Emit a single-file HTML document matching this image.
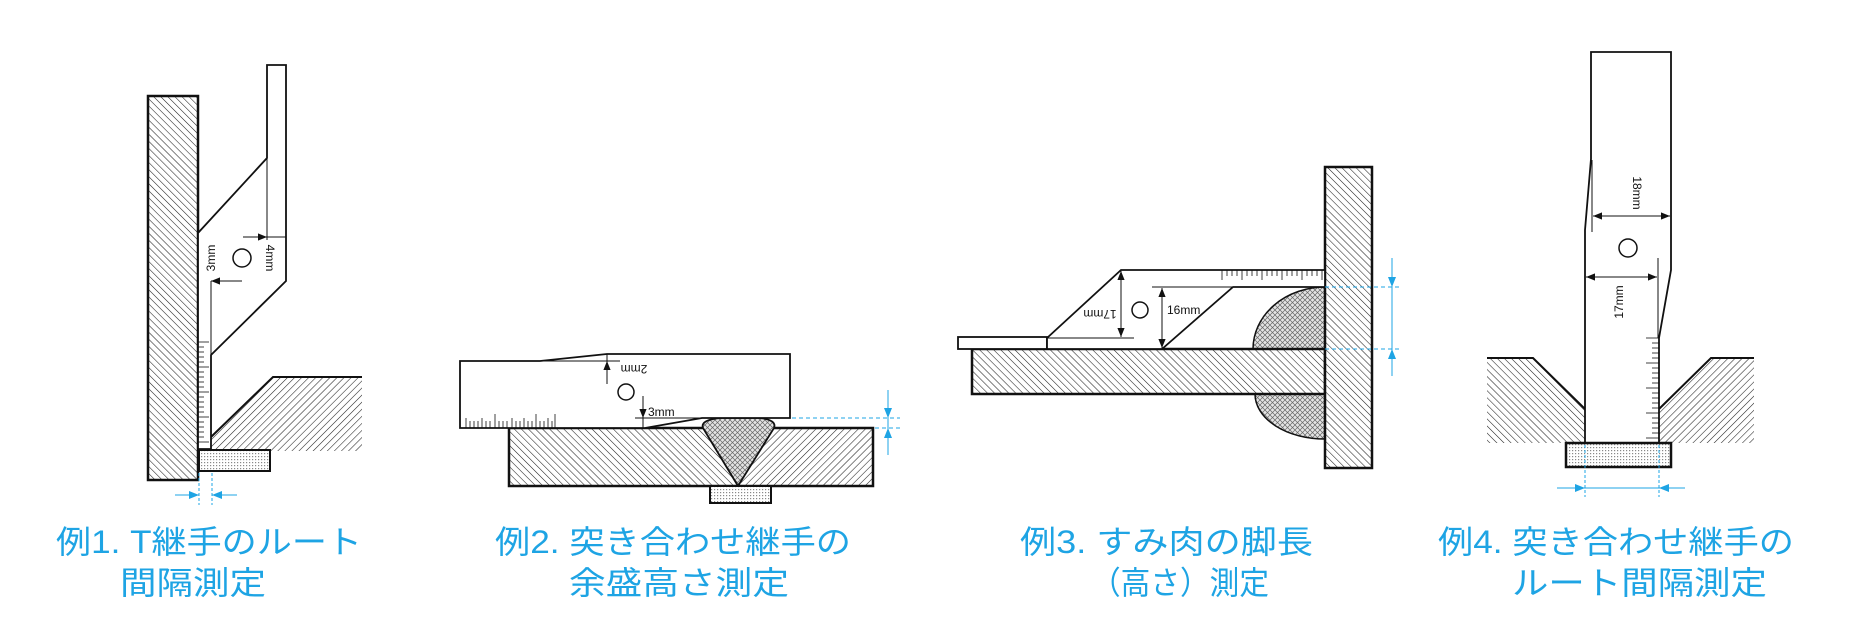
<!DOCTYPE html>
<html><head><meta charset="utf-8"><style>
html,body{margin:0;padding:0;background:#fff;width:1850px;height:620px;overflow:hidden}
svg{display:block}
.lbl{font-family:"Liberation Sans","Noto Sans CJK JP",sans-serif;font-size:32px;fill:#1ea4e4}
.dim{font-family:"Liberation Sans",sans-serif;font-size:12px;fill:#111}
</style></head><body>
<svg width="1850" height="620" viewBox="0 0 1850 620" xmlns="http://www.w3.org/2000/svg">
<defs>
<pattern id="hb" width="5" height="5" patternUnits="userSpaceOnUse" patternTransform="rotate(-45)"><rect width="5" height="5" fill="#fff"/><line x1="0" y1="0" x2="0" y2="5" stroke="#222" stroke-width="1.1"/></pattern>
<pattern id="hf" width="5" height="5" patternUnits="userSpaceOnUse" patternTransform="rotate(45)"><rect width="5" height="5" fill="#fff"/><line x1="0" y1="0" x2="0" y2="5" stroke="#222" stroke-width="1.1"/></pattern>
<pattern id="xw" width="5" height="5" patternUnits="userSpaceOnUse"><rect width="5" height="5" fill="#e4e4e4"/><path d="M0 0L5 5M5 0L0 5" stroke="#666" stroke-width="0.7"/></pattern>
<pattern id="dt" width="3" height="3" patternUnits="userSpaceOnUse"><rect width="3" height="3" fill="#fff"/><rect width="1.2" height="1.2" fill="#888"/></pattern>
<marker id="ar" viewBox="0 0 10 10" refX="10" refY="5" markerWidth="9" markerHeight="9" markerUnits="userSpaceOnUse" orient="auto"><path d="M0 1L10 5L0 9z" fill="#111"/></marker>
<marker id="ab" viewBox="0 0 10 10" refX="10" refY="5" markerWidth="10" markerHeight="10" markerUnits="userSpaceOnUse" orient="auto"><path d="M0 1L10 5L0 9z" fill="#1ea4e4"/></marker>
</defs>

<!-- Example 1 -->
<rect x="148" y="96" width="50" height="384" fill="url(#hb)" stroke="#111" stroke-width="2.5"/>
<polygon points="273,377 362,377 362,451 211,451 211,437" fill="url(#hf)"/>
<polyline points="211,437 273,377 362,377" fill="none" stroke="#111" stroke-width="2"/>
<polygon points="267,65 286,65 286,281 211,355 211,449 198,449 198,233 267,158" fill="#fff" stroke="#111" stroke-width="1.8"/>
<line x1="267" y1="158" x2="267" y2="240" stroke="#111" stroke-width="1"/>
<line x1="211" y1="281" x2="211" y2="449" stroke="#111" stroke-width="1"/>
<g stroke="#111" stroke-width="0.8">
<line x1="198" y1="342" x2="209" y2="342"/><line x1="198" y1="347" x2="204" y2="347"/><line x1="198" y1="352" x2="204" y2="352"/><line x1="198" y1="357" x2="204" y2="357"/><line x1="198" y1="362" x2="204" y2="362"/><line x1="198" y1="367" x2="209" y2="367"/><line x1="198" y1="372" x2="204" y2="372"/><line x1="198" y1="377" x2="204" y2="377"/><line x1="198" y1="382" x2="204" y2="382"/><line x1="198" y1="387" x2="204" y2="387"/><line x1="198" y1="392" x2="209" y2="392"/><line x1="198" y1="397" x2="204" y2="397"/><line x1="198" y1="402" x2="204" y2="402"/><line x1="198" y1="407" x2="204" y2="407"/><line x1="198" y1="412" x2="204" y2="412"/><line x1="198" y1="417" x2="209" y2="417"/><line x1="198" y1="422" x2="204" y2="422"/><line x1="198" y1="427" x2="204" y2="427"/><line x1="198" y1="432" x2="204" y2="432"/><line x1="198" y1="437" x2="204" y2="437"/><line x1="198" y1="442" x2="209" y2="442"/>
</g>
<line x1="243" y1="237" x2="267" y2="237" stroke="#111" stroke-width="1" marker-end="url(#ar)"/>
<line x1="267" y1="237" x2="286" y2="237" stroke="#111" stroke-width="1"/>
<line x1="242" y1="281" x2="211" y2="281" stroke="#111" stroke-width="1" marker-end="url(#ar)"/>
<circle cx="242" cy="258" r="9" fill="none" stroke="#111" stroke-width="1.5"/>
<text class="dim" transform="translate(215,258) rotate(-90)" text-anchor="middle">3mm</text>
<text class="dim" transform="translate(266,258) rotate(90)" text-anchor="middle">4mm</text>
<rect x="199" y="450" width="71" height="21" fill="url(#dt)" stroke="#111" stroke-width="2"/>
<g stroke="#1ea4e4" stroke-width="1" stroke-dasharray="3,2"><line x1="199" y1="473" x2="199" y2="505"/><line x1="212" y1="473" x2="212" y2="505"/></g>
<line x1="175" y1="495" x2="199" y2="495" stroke="#1ea4e4" stroke-width="1" marker-end="url(#ab)"/>
<line x1="237" y1="495" x2="212" y2="495" stroke="#1ea4e4" stroke-width="1" marker-end="url(#ab)"/>
<text class="lbl" x="56" y="553" textLength="306" lengthAdjust="spacingAndGlyphs">例1. T継手のルート</text>
<text class="lbl" x="120" y="594" textLength="146" lengthAdjust="spacingAndGlyphs">間隔測定</text>

<!-- Example 2 -->
<rect x="509" y="428" width="364" height="58" fill="url(#hb)"/>
<polygon points="741,428 873,428 873,486 741,486" fill="url(#hf)"/>
<rect x="509" y="428" width="364" height="58" fill="none" stroke="#111" stroke-width="2.5"/>
<path d="M703,428 Q700,420 720,418 L760,418 Q777,420 774,428 L738,486 Z" fill="url(#xw)" stroke="#111" stroke-width="1.8"/>
<rect x="710" y="486" width="61" height="17" fill="url(#dt)" stroke="#111" stroke-width="2"/>
<polygon points="460,361 540,361 607,354 790,354 790,418 702,418 645,428 460,428" fill="#fff" stroke="#111" stroke-width="1.8"/>
<line x1="540" y1="361" x2="620" y2="361" stroke="#111" stroke-width="1"/>
<g stroke="#111" stroke-width="0.8">
<line x1="466" y1="428" x2="466" y2="418"/><line x1="470" y1="428" x2="470" y2="421"/><line x1="474" y1="428" x2="474" y2="421"/><line x1="478" y1="428" x2="478" y2="421"/><line x1="482" y1="428" x2="482" y2="418"/><line x1="486" y1="428" x2="486" y2="421"/><line x1="490" y1="428" x2="490" y2="421"/><line x1="495" y1="428" x2="495" y2="414"/><line x1="499" y1="428" x2="499" y2="421"/><line x1="503" y1="428" x2="503" y2="421"/><line x1="507" y1="428" x2="507" y2="421"/><line x1="512" y1="428" x2="512" y2="418"/><line x1="516" y1="428" x2="516" y2="421"/><line x1="520" y1="428" x2="520" y2="421"/><line x1="524" y1="428" x2="524" y2="418"/><line x1="528" y1="428" x2="528" y2="421"/><line x1="532" y1="428" x2="532" y2="421"/><line x1="536" y1="428" x2="536" y2="414"/><line x1="540" y1="428" x2="540" y2="421"/><line x1="544" y1="428" x2="544" y2="421"/><line x1="548" y1="428" x2="548" y2="418"/><line x1="552" y1="428" x2="552" y2="421"/><line x1="555" y1="428" x2="555" y2="414"/>
</g>
<line x1="607" y1="384" x2="607" y2="361" stroke="#111" stroke-width="1" marker-end="url(#ar)"/>
<line x1="607" y1="354" x2="607" y2="361" stroke="#111" stroke-width="1"/>
<text class="dim" transform="translate(634,365) rotate(180)" text-anchor="middle">2mm</text>
<circle cx="626" cy="392" r="8" fill="none" stroke="#111" stroke-width="1.5"/>
<line x1="643" y1="396" x2="643" y2="418" stroke="#111" stroke-width="1" marker-end="url(#ar)"/>
<line x1="643" y1="418" x2="643" y2="428" stroke="#111" stroke-width="1"/>
<line x1="635" y1="418" x2="702" y2="418" stroke="#111" stroke-width="1"/>
<text class="dim" x="648" y="416">3mm</text>
<g stroke="#1ea4e4" stroke-width="1" stroke-dasharray="4,3"><line x1="792" y1="418" x2="900" y2="418"/><line x1="875" y1="428" x2="900" y2="428"/></g>
<line x1="888" y1="390" x2="888" y2="455" stroke="#1ea4e4" stroke-width="1"/>
<line x1="888" y1="395" x2="888" y2="418" stroke="#1ea4e4" stroke-width="1" marker-end="url(#ab)"/>
<line x1="888" y1="452" x2="888" y2="428" stroke="#1ea4e4" stroke-width="1" marker-end="url(#ab)"/>
<text class="lbl" x="495" y="553" textLength="356" lengthAdjust="spacingAndGlyphs">例2. 突き合わせ継手の</text>
<text class="lbl" x="569" y="594" textLength="220" lengthAdjust="spacingAndGlyphs">余盛高さ測定</text>

<!-- Example 3 -->
<path d="M1325,287 A72,62 0 0 0 1253,349 L1325,349 Z" fill="url(#xw)" stroke="#111" stroke-width="1.5"/>
<path d="M1255,394 A70,45 0 0 0 1325,439 L1325,394 Z" fill="url(#xw)" stroke="#111" stroke-width="1.5"/>
<rect x="972" y="349" width="353" height="45" fill="url(#hb)" stroke="#111" stroke-width="2.5"/>
<rect x="1325" y="167" width="47" height="301" fill="url(#hb)" stroke="#111" stroke-width="2.5"/>
<rect x="958" y="337" width="89" height="12" fill="#fff" stroke="#111" stroke-width="1.8"/>
<polygon points="1047,338 1121,270 1325,270 1325,287 1233,287 1162,349 1047,349" fill="#fff" stroke="#111" stroke-width="1.8"/>
<g stroke="#111" stroke-width="0.8">
<line x1="1222" y1="270" x2="1222" y2="280"/><line x1="1227" y1="270" x2="1227" y2="276"/><line x1="1232" y1="270" x2="1232" y2="276"/><line x1="1237" y1="270" x2="1237" y2="276"/><line x1="1242" y1="270" x2="1242" y2="280"/><line x1="1247" y1="270" x2="1247" y2="276"/><line x1="1252" y1="270" x2="1252" y2="276"/><line x1="1257" y1="270" x2="1257" y2="276"/><line x1="1262" y1="270" x2="1262" y2="280"/><line x1="1267" y1="270" x2="1267" y2="276"/><line x1="1272" y1="270" x2="1272" y2="276"/><line x1="1277" y1="270" x2="1277" y2="276"/><line x1="1282" y1="270" x2="1282" y2="280"/><line x1="1287" y1="270" x2="1287" y2="276"/><line x1="1292" y1="270" x2="1292" y2="276"/><line x1="1297" y1="270" x2="1297" y2="276"/><line x1="1302" y1="270" x2="1302" y2="280"/><line x1="1307" y1="270" x2="1307" y2="276"/><line x1="1312" y1="270" x2="1312" y2="276"/><line x1="1317" y1="270" x2="1317" y2="276"/><line x1="1322" y1="270" x2="1322" y2="280"/>
</g>
<line x1="1047" y1="338" x2="1134" y2="338" stroke="#111" stroke-width="1"/>
<line x1="1121" y1="300" x2="1121" y2="271" stroke="#111" stroke-width="1" marker-end="url(#ar)"/>
<line x1="1121" y1="300" x2="1121" y2="337" stroke="#111" stroke-width="1" marker-end="url(#ar)"/>
<text class="dim" transform="translate(1100,310) rotate(180)" text-anchor="middle">17mm</text>
<circle cx="1140" cy="310" r="8" fill="none" stroke="#111" stroke-width="1.5"/>
<line x1="1152" y1="287" x2="1233" y2="287" stroke="#111" stroke-width="1"/>
<line x1="1162" y1="318" x2="1162" y2="288" stroke="#111" stroke-width="1" marker-end="url(#ar)"/>
<line x1="1162" y1="318" x2="1162" y2="348" stroke="#111" stroke-width="1" marker-end="url(#ar)"/>
<text class="dim" x="1167" y="314">16mm</text>
<g stroke="#1ea4e4" stroke-width="1" stroke-dasharray="4,3"><line x1="1325" y1="287" x2="1400" y2="287"/><line x1="1325" y1="349" x2="1400" y2="349"/></g>
<line x1="1392" y1="258" x2="1392" y2="376" stroke="#1ea4e4" stroke-width="1"/>
<line x1="1392" y1="262" x2="1392" y2="287" stroke="#1ea4e4" stroke-width="1" marker-end="url(#ab)"/>
<line x1="1392" y1="374" x2="1392" y2="349" stroke="#1ea4e4" stroke-width="1" marker-end="url(#ab)"/>
<text class="lbl" x="1020" y="553" textLength="293" lengthAdjust="spacingAndGlyphs">例3. すみ肉の脚長</text>
<text class="lbl" x="1091" y="594" textLength="178" lengthAdjust="spacingAndGlyphs">（高さ）測定</text>

<!-- Example 4 -->
<polygon points="1487,358 1533,358 1585,409 1585,443 1487,443" fill="url(#hb)"/>
<polyline points="1487,358 1533,358 1585,409" fill="none" stroke="#111" stroke-width="2"/>
<polygon points="1754,358 1711,358 1659,409 1659,443 1754,443" fill="url(#hf)"/>
<polyline points="1754,358 1711,358 1659,409" fill="none" stroke="#111" stroke-width="2"/>
<polygon points="1591,52 1671,52 1671,270 1659,338 1659,443 1585,443 1585,230 1591,159" fill="#fff" stroke="#111" stroke-width="1.8"/>
<g stroke="#111" stroke-width="0.8">
<line x1="1659" y1="338" x2="1646" y2="338"/><line x1="1659" y1="343" x2="1652" y2="343"/><line x1="1659" y1="348" x2="1652" y2="348"/><line x1="1659" y1="353" x2="1652" y2="353"/><line x1="1659" y1="358" x2="1652" y2="358"/><line x1="1659" y1="363" x2="1646" y2="363"/><line x1="1659" y1="368" x2="1652" y2="368"/><line x1="1659" y1="373" x2="1652" y2="373"/><line x1="1659" y1="378" x2="1652" y2="378"/><line x1="1659" y1="383" x2="1652" y2="383"/><line x1="1659" y1="388" x2="1646" y2="388"/><line x1="1659" y1="393" x2="1652" y2="393"/><line x1="1659" y1="398" x2="1652" y2="398"/><line x1="1659" y1="403" x2="1652" y2="403"/><line x1="1659" y1="408" x2="1652" y2="408"/><line x1="1659" y1="413" x2="1646" y2="413"/><line x1="1659" y1="418" x2="1652" y2="418"/><line x1="1659" y1="423" x2="1652" y2="423"/><line x1="1659" y1="428" x2="1652" y2="428"/><line x1="1659" y1="433" x2="1652" y2="433"/><line x1="1659" y1="438" x2="1646" y2="438"/>
</g>
<line x1="1592" y1="160" x2="1592" y2="232" stroke="#111" stroke-width="1"/>
<line x1="1658" y1="258" x2="1658" y2="338" stroke="#111" stroke-width="1"/>
<line x1="1630" y1="216" x2="1593" y2="216" stroke="#111" stroke-width="1" marker-end="url(#ar)"/>
<line x1="1630" y1="216" x2="1670" y2="216" stroke="#111" stroke-width="1" marker-end="url(#ar)"/>
<text class="dim" transform="translate(1633,193) rotate(90)" text-anchor="middle">18mm</text>
<circle cx="1628" cy="248" r="9" fill="none" stroke="#111" stroke-width="1.5"/>
<line x1="1620" y1="277" x2="1586" y2="277" stroke="#111" stroke-width="1" marker-end="url(#ar)"/>
<line x1="1620" y1="277" x2="1657" y2="277" stroke="#111" stroke-width="1" marker-end="url(#ar)"/>
<text class="dim" transform="translate(1623,302) rotate(-90)" text-anchor="middle">17mm</text>
<rect x="1566" y="443" width="105" height="24" fill="url(#dt)" stroke="#111" stroke-width="2.5"/>
<g stroke="#1ea4e4" stroke-width="1" stroke-dasharray="3,2"><line x1="1585" y1="445" x2="1585" y2="497"/><line x1="1659" y1="445" x2="1659" y2="497"/></g>
<line x1="1585" y1="488" x2="1659" y2="488" stroke="#1ea4e4" stroke-width="1"/>
<line x1="1557" y1="488" x2="1585" y2="488" stroke="#1ea4e4" stroke-width="1" marker-end="url(#ab)"/>
<line x1="1685" y1="488" x2="1659" y2="488" stroke="#1ea4e4" stroke-width="1" marker-end="url(#ab)"/>
<text class="lbl" x="1438" y="553" textLength="356" lengthAdjust="spacingAndGlyphs">例4. 突き合わせ継手の</text>
<text class="lbl" x="1512" y="594" textLength="255" lengthAdjust="spacingAndGlyphs">ルート間隔測定</text>
</svg>
</body></html>
